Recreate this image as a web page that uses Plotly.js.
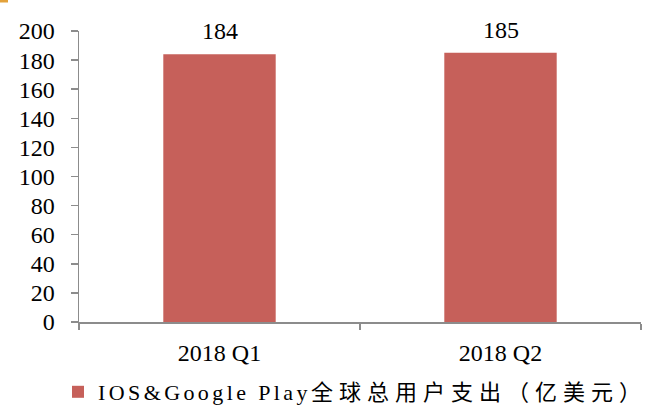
<!DOCTYPE html>
<html>
<head>
<meta charset="utf-8">
<script src="https://cdn.plot.ly/plotly-3.0.1.min.js"></script>
<style>
html,body{margin:0;padding:0;background:#fff;}
#chart{width:649px;height:410px;}
</style>
</head>
<body>
<div id="chart"></div>
<script>
const categories = ["2018 Q1", "2018 Q2"];
const spending = [184, 185];
const seriesName = "IOS&Google Play全球总用户支出（亿美元）";
const yTicks = [0, 20, 40, 60, 80, 100, 120, 140, 160, 180, 200];

const serif = "Liberation Serif, Times New Roman, serif";
const legendLabel =
  '<span style="letter-spacing:3.4px">IOS&amp;Google Play</span>' +
  '<span style="letter-spacing:6px">全球总用户支出（亿美元）</span>';

const trace = {
  type: "bar",
  x: categories,
  y: spending,
  name: legendLabel,
  marker: { color: "#C6605A", line: { width: 0 } },
  width: 0.4,
  hoverinfo: "x+y"
};

const annotations = categories.map((c, i) => ({
  x: c, y: spending[i], xref: "x", yref: "y",
  text: String(spending[i]), showarrow: false,
  yanchor: "middle", yshift: 23,
  font: { family: serif, size: 24, color: "#000" }
}));

const layout = {
  width: 649, height: 410,
  margin: { l: 79, r: 8, t: 31, b: 88, autoexpand: false },
  paper_bgcolor: "#fff", plot_bgcolor: "#fff",
  font: { family: serif, size: 24, color: "#000" },
  showlegend: true,
  legend: {
    orientation: "h", x: (58 - 79) / 562, xanchor: "left",
    y: (322 - 392) / 291, yanchor: "middle",
    font: { family: "Liberation Serif, Noto Sans CJK SC, serif", size: 22, color: "#000" },
    bgcolor: "rgba(0,0,0,0)"
  },
  xaxis: {
    type: "category",
    showline: true, linecolor: "#8c8c8c", linewidth: 1.5,
    ticks: "outside", tickson: "boundaries", ticklen: 6, tickcolor: "#8c8c8c", tickwidth: 1.5,
    showgrid: false, zeroline: false,
    tickfont: { family: serif, size: 24, color: "#000" },
    ticklabelstandoff: 9
  },
  yaxis: {
    range: [0, 200], tickvals: yTicks, ticktext: yTicks.map(String),
    showline: true, linecolor: "#8c8c8c", linewidth: 1.5,
    ticks: "outside", ticklen: 7, tickcolor: "#8c8c8c", tickwidth: 1.5,
    showgrid: false, zeroline: false,
    tickfont: { family: serif, size: 24, color: "#000" },
    ticklabelstandoff: 11
  },
  annotations: annotations,
  shapes: [{
    type: "rect", xref: "paper", yref: "paper", layer: "above",
    x0: (0 - 79) / 562, x1: (8 - 79) / 562, y0: (322 - 0) / 291, y1: (322 - 2.5) / 291,
    fillcolor: "#E3A23B", line: { width: 0 }
  }],
  bargap: 0.6
};

Plotly.newPlot("chart", [trace], layout, { displayModeBar: false, staticPlot: true });
</script>
</body>
</html>
